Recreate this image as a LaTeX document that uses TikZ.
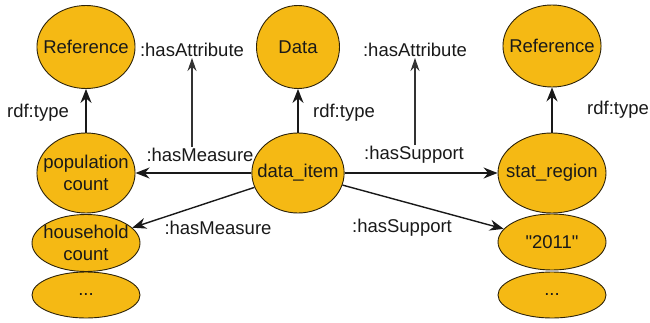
\documentclass[tikz,border=0pt]{standalone}
\usepackage{fontspec}
\setmainfont{Liberation Sans}
\usepackage{xcolor}
\usetikzlibrary{arrows.meta, shapes.geometric, positioning}
\definecolor{nodegold}{RGB}{245,185,20}
\definecolor{rimdark}{RGB}{45,35,10}

\begin{document}
\begin{tikzpicture}[x=1pt, y=1pt, >={Stealth[length=14pt, width=11pt]}, every node/.style={font=\fontsize{18.5}{21.5}\selectfont}]
    % Define styles for resources, property labels and arrows
    \tikzstyle{resource} = [ellipse, draw=rimdark, line width=0.9pt, fill=nodegold, inner xsep=-8pt, inner ysep=0pt, align=center, text=black!90]
    \tikzstyle{prop} = [inner sep=1pt, text=black!90]
    \tikzstyle{link} = [draw=black!90, line width=1.4pt, ->]
    \tikzstyle{reif} = [draw=black!80, line width=1.1pt, ->, >={Stealth[length=13pt, width=9pt]}]

    \useasboundingbox (0,0) rectangle (650,322);

    % Resources
    \node [resource, minimum width=97pt, minimum height=83pt] (refleft) at (86,275) {Reference};
    \node [resource, minimum width=83pt, minimum height=83pt] (data) at (298,275) {Data};
    \node [resource, minimum width=98pt, minimum height=82pt] (refright) at (552,276) {Reference};
    \node [resource, minimum width=98pt, minimum height=80pt] (popcount) at (86,149) {population\\count};
    \node [resource, minimum width=85pt, minimum height=80pt] (item) at (298,149) {data\_item};
    \node [resource, minimum width=108pt, minimum height=80pt] (region) at (552,149) {stat\_region};
    \node [resource, minimum width=108pt, minimum height=57pt] (hhcount) at (86,79) {household\\count};
    \node [resource, minimum width=108pt, minimum height=46pt] (moremeas) at (86,27) {...};
    \node [resource, minimum width=108pt, minimum height=56pt] (year) at (552,80) {\textquotedbl 2011\textquotedbl};
    \node [resource, minimum width=108pt, minimum height=46pt] (moresupp) at (552,27) {...};

    % Property labels
    \node [prop] (typeleft) at (38,209) {rdf:type};
    \node [prop] (typemid) at (344,209) {rdf:type};
    \node [prop] (typeright) at (618,212) {rdf:type};
    \node [prop] (measup) at (200,167) {:hasMeasure};
    \node [prop] (measdown) at (218,94) {:hasMeasure};
    \node [prop] (suppup) at (414,167) {:hasSupport};
    \node [prop] (suppdown) at (402,94) {:hasSupport};
    \node [prop] (attrleft) at (192,272) {:hasAttribute};
    \node [prop] (attrright) at (415,272) {:hasAttribute};

    % Draw edges
    \draw [link] (popcount) -- (refleft);
    \draw [link] (item) -- (data);
    \draw [link] (region) -- (refright);
    \draw [link] (item) -- (popcount);
    \draw [link] (item) -- (hhcount);
    \draw [link] (item) -- (region);
    \draw [link] (item) -- (year);

    % Attributes of the properties
    \draw [reif] (measup.north -| attrleft) -- (attrleft.south);
    \draw [reif] (suppup.north -| attrright) -- (attrright.south);
\end{tikzpicture}
\end{document}
